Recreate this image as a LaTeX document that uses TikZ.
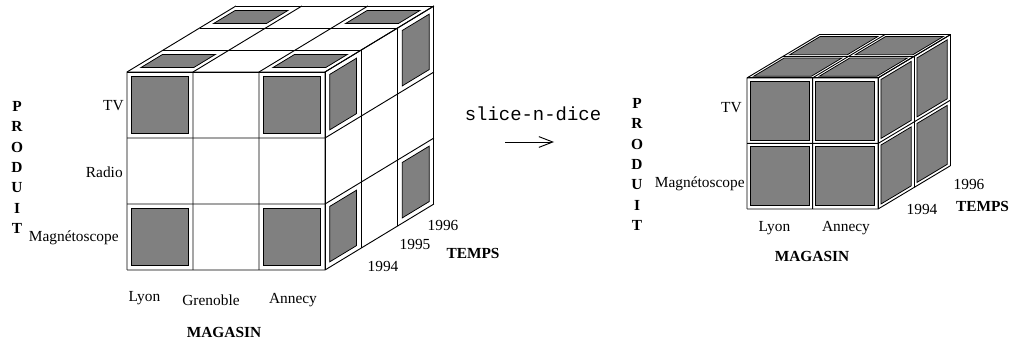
\documentclass[tikz,border=0pt]{standalone}
\usepackage{fontspec}
\setmainfont{Liberation Serif}
\setmonofont{Liberation Mono}
\usetikzlibrary{arrows.meta}
\tikzset{
    grid line/.style={line width=0.6pt},
    cell face/.style={fill=gray,draw=black,line width=0.5pt},
    item label/.style={inner sep=0pt,font=\fontsize{10}{12}\selectfont},
    axis label/.style={inner sep=0pt,font=\fontsize{10}{13.3}\selectfont\bfseries,align=center}
}

\begin{document}
\begin{tikzpicture}[x=0.65pt,y=-0.65pt]
    \useasboundingbox (0,0) rectangle (1011,340);

    % full cube: 3 stores x 3 products x 3 years
    \begin{scope}[shift={(127,270)},x={(42.9pt,0)},y={(0,42.9pt)},z={(23.6pt,14.3pt)},grid line]
        \foreach \i in {0,...,3}{
            \draw (\i,0,0) -- (\i,3,0) -- (\i,3,3);
            \draw (0,\i,0) -- (3,\i,0) -- (3,\i,3);
            \draw (0,3,\i) -- (3,3,\i) -- (3,0,\i);
        }
        \foreach \a in {0,2}
        \foreach \b in {0,2}{
            \filldraw[cell face] (\a+0.07,\b+0.07,0) rectangle (\a+0.93,\b+0.93,0);
            \filldraw[cell face] (\a+0.1,3,\b+0.2) -- (\a+0.9,3,\b+0.2) -- (\a+0.9,3,\b+0.8) -- (\a+0.1,3,\b+0.8) -- cycle;
            \filldraw[cell face] (3,\a+0.08,\b+0.13) -- (3,\a+0.92,\b+0.13) -- (3,\a+0.92,\b+0.87) -- (3,\a+0.08,\b+0.87) -- cycle;
        }
    \end{scope}

    \node[axis label] (produit1) at (17,167.5) {P\\R\\O\\D\\U\\I\\T};
    \node[item label,anchor=east] (tv1) at (124,106) {TV};
    \node[item label,anchor=east] (radio1) at (123,172) {Radio};
    \node[item label,anchor=east] (magneto1) at (119,238) {Magnétoscope};
    \node[item label] (lyon1) at (144.5,298) {Lyon};
    \node[item label] (grenoble1) at (211,300) {Grenoble};
    \node[item label] (annecy1) at (293,300) {Annecy};
    \node[axis label] (magasin1) at (224,332) {MAGASIN};
    \node[item label] (y96a) at (443,225) {1996};
    \node[item label] (y95a) at (415,244) {1995};
    \node[item label] (y94a) at (383,266) {1994};
    \node[axis label] (temps1) at (473,253) {TEMPS};

    % operation
    \node[inner sep=0pt,font=\ttfamily\fontsize{12.3}{14}\selectfont] (op) at (533,114) {slice-n-dice};
    \coordinate (arr-s) at (505,142);
    \coordinate (arr-e) at (554,142);
    \draw[-{Straight Barb[length=9pt,width=7pt]},line width=0.6pt] (arr-s) -- (arr-e);

    % sub-cube: 2 stores x 2 products x 2 years
    \begin{scope}[shift={(747,209)},x={(42.6pt,0)},y={(0,42.6pt)},z={(23.4pt,14pt)},grid line]
        \foreach \i in {0,...,2}{
            \draw (\i,0,0) -- (\i,2,0) -- (\i,2,2);
            \draw (0,\i,0) -- (2,\i,0) -- (2,\i,2);
            \draw (0,2,\i) -- (2,2,\i) -- (2,0,\i);
        }
        \foreach \a in {0,1}
        \foreach \b in {0,1}{
            \filldraw[cell face] (\a+0.05,\b+0.05,0) rectangle (\a+0.95,\b+0.95,0);
            \filldraw[cell face] (\a+0.06,2,\b+0.08) -- (\a+0.94,2,\b+0.08) -- (\a+0.94,2,\b+0.92) -- (\a+0.06,2,\b+0.92) -- cycle;
            \filldraw[cell face] (2,\a+0.05,\b+0.08) -- (2,\a+0.95,\b+0.08) -- (2,\a+0.95,\b+0.92) -- (2,\a+0.05,\b+0.92) -- cycle;
        }
    \end{scope}

    \node[axis label] (produit2) at (637,164.5) {P\\R\\O\\D\\U\\I\\T};
    \node[item label,anchor=east] (tv2) at (742,108) {TV};
    \node[item label,anchor=east] (magneto2) at (745,184) {Magnétoscope};
    \node[item label] (lyon2) at (774.5,228) {Lyon};
    \node[item label] (annecy2) at (846,228) {Annecy};
    \node[axis label] (magasin2) at (812,256) {MAGASIN};
    \node[item label] (y96b) at (969,184) {1996};
    \node[item label] (y94b) at (922,209) {1994};
    \node[axis label] (temps2) at (982.5,206) {TEMPS};
\end{tikzpicture}
\end{document}
